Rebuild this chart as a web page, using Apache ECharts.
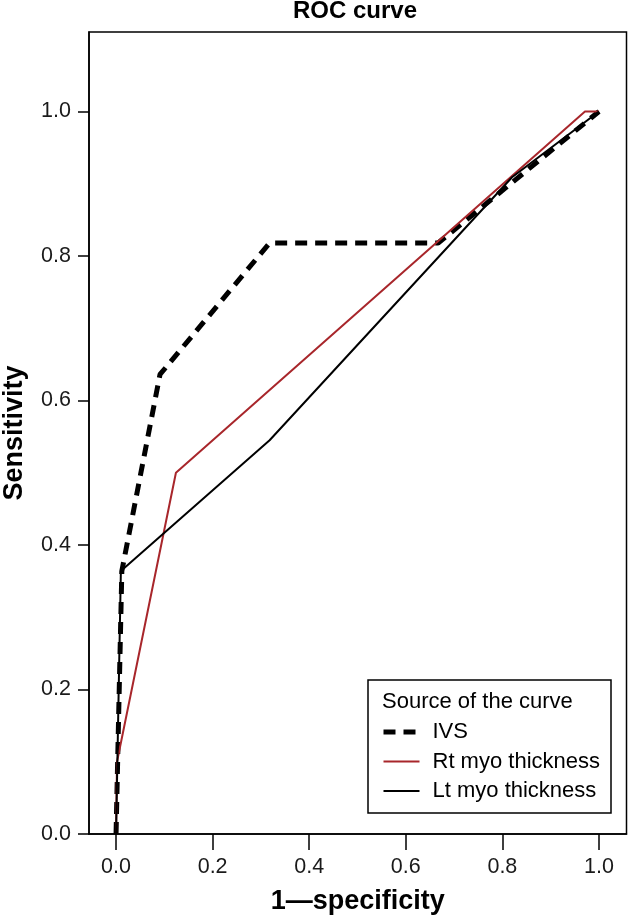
<!DOCTYPE html>
<html>
<head>
<meta charset="utf-8">
<script src="https://cdn.jsdelivr.net/npm/echarts@6/dist/echarts.min.js"></script>
<style>
html,body{margin:0;padding:0;background:#fff;}
#chart{width:628px;height:916px;}
</style>
</head>
<body>
<div id="chart"></div>
<script>
// ---- data ----
var seriesNames = ['IVS', 'Rt myo thickness', 'Lt myo thickness'];
var ivsPoints = [[0, 0], [0.012, 0.364], [0.091, 0.636], [0.318, 0.818], [0.667, 0.818], [1, 1]];
var rtPoints  = [[0, 0], [0.002, 0.1], [0.124, 0.5], [0.971, 1], [1, 1]];
var ltPoints  = [[0, 0], [0.01, 0.364], [0.318, 0.545], [0.82, 0.909], [1, 1]];
var xTicks = [0, 0.2, 0.4, 0.6, 0.8, 1.0];
var yTicks = [0, 0.2, 0.4, 0.6, 0.8, 1.0];
var chartTitle = 'ROC curve';
var xName = '1\u2014specificity';
var yName = 'Sensitivity';
var legendTitle = 'Source of the curve';

var FONT = '"Liberation Sans", Arial, sans-serif';
var RED = '#a8262b';
var chart = echarts.init(document.getElementById('chart'), null, {renderer: 'canvas'});

var option = {
  backgroundColor: '#fff',
  animation: false,
  grid: {
    left: 89, top: 32, right: 1.5, bottom: 82,
    containLabel: false, outerBoundsMode: 'none',
    show: true, borderColor: '#000', borderWidth: 1.5, backgroundColor: 'transparent'
  },
  xAxis: {
    type: 'value', min: -0.056, max: 1.057,
    splitLine: {show: false},
    axisLine: {show: true, onZero: false, lineStyle: {color: '#000', width: 1.5}},
    axisTick: {show: true, customValues: xTicks, length: 16, lineStyle: {color: '#000', width: 1.5}},
    axisLabel: {customValues: xTicks, margin: 22, color: '#1a1a1a', fontSize: 21.5, fontFamily: FONT,
      formatter: function (v) { return v.toFixed(1); }},
    name: xName, nameLocation: 'middle', nameGap: 54,
    nameTextStyle: {color: '#000', fontSize: 27, fontWeight: 'bold', fontFamily: FONT}
  },
  yAxis: {
    type: 'value', min: 0, max: 1.11,
    splitLine: {show: false},
    axisLine: {show: true, onZero: false, lineStyle: {color: '#000', width: 1.5}},
    axisTick: {show: true, customValues: yTicks, length: 11, lineStyle: {color: '#000', width: 1.5}},
    axisLabel: {customValues: yTicks, margin: 18, color: '#1a1a1a', fontSize: 21.5, fontFamily: FONT,
      formatter: function (v) { return v.toFixed(1); }},
    name: yName, nameLocation: 'middle', nameGap: 61,
    nameTextStyle: {color: '#000', fontSize: 27, fontWeight: 'bold', fontFamily: FONT}
  },
  legend: {
    orient: 'vertical', left: 381, top: 721, padding: 0, z: 10,
    itemWidth: 36, itemHeight: 14, itemGap: 7.5,
    data: [
      {name: seriesNames[0], itemStyle: {opacity: 0}, lineStyle: {color: '#000', width: 5, type: [12, 8]}},
      {name: seriesNames[1], itemStyle: {opacity: 0}, lineStyle: {color: RED, width: 2}},
      {name: seriesNames[2], itemStyle: {opacity: 0}, lineStyle: {color: '#000', width: 2}}
    ],
    textStyle: {color: '#000', fontSize: 22, fontFamily: FONT, lineHeight: 22, padding: [0, 0, 0, 8]}
  },
  graphic: [
    {type: 'rect', shape: {x: 368, y: 680, width: 243, height: 133},
      style: {fill: 'none', stroke: '#000', lineWidth: 1.5}, z: 1},
    {type: 'text', x: 382, y: 702, z: 6,
      style: {text: legendTitle, fill: '#000', font: '22px ' + FONT, verticalAlign: 'middle', textAlign: 'left'}},
    {type: 'text', x: 355, y: 11.5, z: 6,
      style: {text: chartTitle, fill: '#000', font: 'bold 24px ' + FONT, verticalAlign: 'middle', textAlign: 'center'}}
  ],
  series: [
    {name: seriesNames[0], type: 'line', data: ivsPoints, symbol: 'none', z: 2,
      lineStyle: {color: '#000', width: 5, type: [12, 8]}, itemStyle: {color: '#000'}},
    {name: seriesNames[1], type: 'line', data: rtPoints, symbol: 'none', z: 3,
      lineStyle: {color: RED, width: 2}, itemStyle: {color: RED}},
    {name: seriesNames[2], type: 'line', data: ltPoints, symbol: 'none', z: 4,
      lineStyle: {color: '#000', width: 2}, itemStyle: {color: '#000'}}
  ]
};
chart.setOption(option);
</script>
</body>
</html>
